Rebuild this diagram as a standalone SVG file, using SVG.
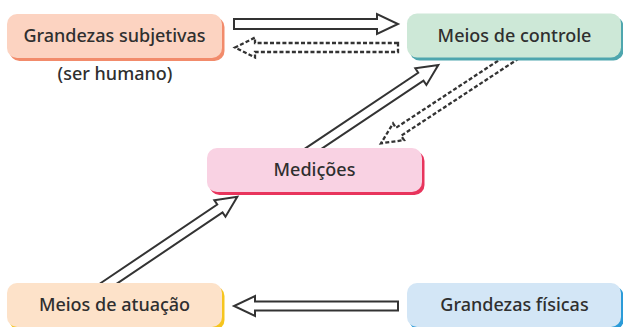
<svg xmlns="http://www.w3.org/2000/svg" width="623" height="327" viewBox="0 0 623 327">
<style>
.lbl{font-family:"Noto Sans","Open Sans","DejaVu Sans",sans-serif;font-size:18px;font-weight:500;fill:#2f2f2f;text-anchor:middle}
.arr{fill:#fff;stroke:#333;stroke-width:2;stroke-linejoin:miter}
.dash{fill:#fff;stroke:#333;stroke-width:2.3;stroke-dasharray:4 2.2;stroke-linejoin:miter}
</style>
<rect width="623" height="327" fill="#fff"/>
<g id="connectors">
  <polygon class="arr" points="234,19 377,19 377,14 398,24 377,34 377,29 234,29"/>
  <polygon class="dash" points="398,43 255,43 255,37.5 235,47.5 255,57.5 255,52 398,52"/>
  <polygon class="arr" points="398,301.5 255,301.5 255,296 234,306 255,316 255,310.5 398,310.5"/>
  <polygon class="arr" transform="translate(237.3,196.7) rotate(-34)" points="-165,-4.75 -21,-4.75 -21,-10 0,0 -21,10 -21,4.75 -165,4.75"/>
  <polygon class="arr" transform="translate(438.3,65) rotate(-33.8)" points="-160,-4.75 -21,-4.75 -21,-10 0,0 -21,10 -21,4.75 -160,4.75"/>
  <polygon class="dash" transform="translate(381,143.3) rotate(146.7)" points="-162,-4.75 -21,-4.75 -21,-10 0,0 -21,10 -21,4.75 -162,4.75"/>
</g>
<g id="grandezas-subjetivas">
  <rect x="9.5" y="17" width="215" height="44" rx="10" fill="#f28b6b"/>
  <rect x="7" y="14" width="215" height="44" rx="10" fill="#fcd3c1"/>
  <text class="lbl" x="114.5" y="42">Grandezas subjetivas</text>
  <text class="lbl" x="115" y="80">(ser humano)</text>
</g>
<g id="meios-de-controle">
  <rect x="409.5" y="16.5" width="214" height="44" rx="10" fill="#4ea6ae"/>
  <rect x="407" y="13.5" width="214" height="44" rx="10" fill="#cde8d7"/>
  <text class="lbl" x="514.5" y="42">Meios de controle</text>
</g>
<g id="medicoes">
  <rect x="209.5" y="151" width="215" height="44" rx="10" fill="#e8345c"/>
  <rect x="207" y="148" width="215" height="44" rx="10" fill="#f9d2e3"/>
  <text class="lbl" x="314.5" y="176">Medições</text>
</g>
<g id="meios-de-atuacao">
  <rect x="9.5" y="286" width="215" height="44" rx="10" fill="#f6c51e"/>
  <rect x="7" y="283" width="215" height="44" rx="10" fill="#fde2c9"/>
  <text class="lbl" x="114.5" y="311">Meios de atuação</text>
</g>
<g id="grandezas-fisicas">
  <rect x="409.5" y="286" width="214" height="44" rx="10" fill="#2b9bd8"/>
  <rect x="407" y="283" width="214" height="44" rx="10" fill="#d3e6f6"/>
  <text class="lbl" x="514.5" y="311">Grandezas físicas</text>
</g>
</svg>
